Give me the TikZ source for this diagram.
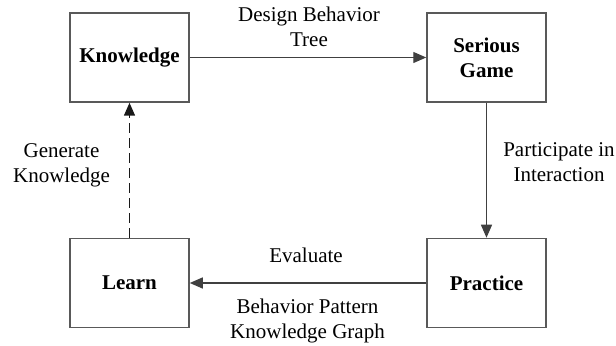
\documentclass[tikz,border=0pt]{standalone}
\usepackage{fontspec}
\setmainfont{Liberation Serif}
\usetikzlibrary{arrows.meta}

\tikzset{
  block/.style={draw=black!65, line width=0.75pt, rectangle, inner sep=0pt,
    minimum width=59.5pt, minimum height=44.5pt, align=center,
    font=\fontsize{10.5}{12.5}\selectfont\bfseries},
  flow/.style={draw=black!75, line width=0.65pt,
    -{Triangle[length=6.5pt,width=5.5pt]}},
  feedback/.style={flow, draw=black!90, line width=0.75pt,
    dash pattern=on 5pt off 2.5pt},
  % base anchor of a multi-line caption sits on its last line
  caption/.style={anchor=base, align=center, inner sep=0pt,
    font=\fontsize{10.5}{12.5}\selectfont},
}

\begin{document}
\begin{tikzpicture}[x=0.5pt, y=-0.5pt]
  \useasboundingbox (0,0) rectangle (616,346);

  % the four stages of the cycle
  \node[block] (know)     at (129.5, 57.5) {Knowledge};
  \node[block] (game)     at (486.5, 57.5) {Serious\\Game};
  \node[block] (learn)    at (129.5, 283)  {Learn};
  \node[block] (practice) at (486.5, 283)  {Practice};

  % transitions
  \draw[flow] (know) -- (game);
  \draw[flow] (game) -- (practice);
  \draw[flow] (practice) -- (learn);
  \draw[feedback] (learn) -- (know);

  % transition captions
  \node[caption] (cdesign)   at (309, 47)    {Design Behavior\\Tree};
  \node[caption] (cpart)     at (559, 182)   {Participate in\\Interaction};
  \node[caption] (cgen)      at (61.5, 183)  {Generate\\Knowledge};
  \node[caption] (ceval)     at (306, 263)   {Evaluate};
  \node[caption] (cpattern)  at (307.5, 339) {Behavior Pattern\\Knowledge Graph};
\end{tikzpicture}
\end{document}
